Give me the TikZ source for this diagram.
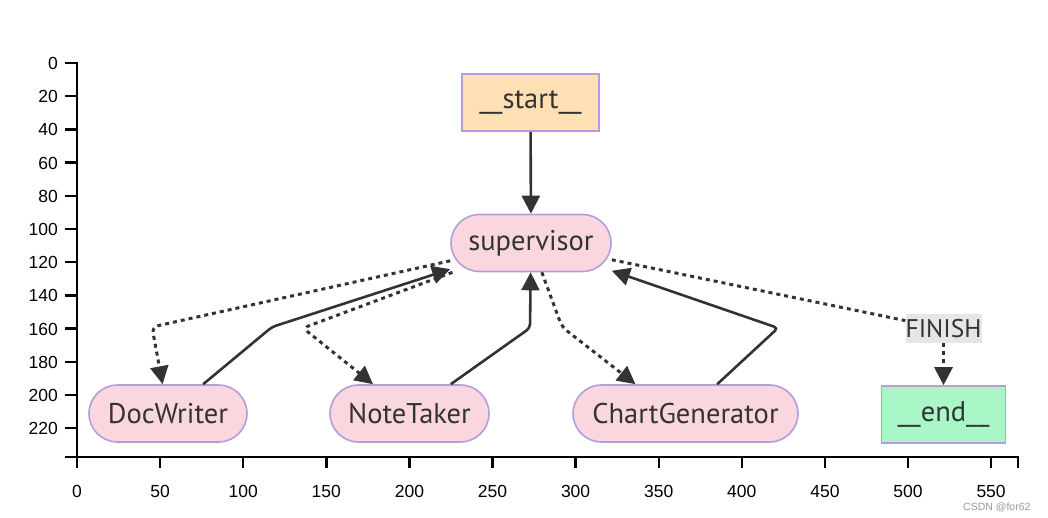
\documentclass[tikz,border=0pt]{standalone}
\usepackage{fontspec}
\setmainfont{PT Sans}
\newfontfamily\axisfont{Liberation Sans}
\usepackage{xcolor}
\usepackage{tikz}
\usetikzlibrary{arrows.meta, positioning, calc}

\definecolor{edgegray}{HTML}{333333}
\definecolor{nodeborder}{HTML}{B39DDB}
\definecolor{startfill}{HTML}{FFDFB4}
\definecolor{endfill}{HTML}{A9F7C6}
\definecolor{agentfill}{HTML}{FAD7DE}
\definecolor{labelbg}{HTML}{E6E6E6}

\begin{document}
\begin{tikzpicture}[
    x=1pt, y=-1pt,
    font=\fontsize{28.5}{32}\selectfont,
    box/.style={
        rectangle,
        draw=nodeborder,
        line width=1.6pt,
        text=edgegray,
        minimum height=57pt,
        inner sep=0pt
    },
    agent/.style={
        box,
        fill=agentfill,
        rounded corners=28.5pt
    },
    arrow/.style={
        -{Triangle[length=18pt,width=18pt]},
        line width=2.6pt,
        draw=edgegray,
        rounded corners=4pt
    },
    dotline/.style={
        line width=3pt,
        draw=edgegray,
        dash pattern=on 4pt off 4pt,
        rounded corners=6pt
    },
    dotarrow/.style={
        dotline,
        -{Triangle[length=18pt,width=18pt]}
    },
    axis/.style={
        line width=2.4pt,
        draw=black
    },
    ticklabel/.style={
        font=\axisfont\fontsize{17.5}{19}\selectfont,
        inner sep=0pt
    }
]
\useasboundingbox (0,0) rectangle (1048,518);

% Axes
\draw[axis] (65,63) -- (77,63) -- (77,457) -- (65,457);
\draw[axis] (77,468) -- (77,457) -- (1018,457) -- (1018,468);
\foreach \v in {0,20,...,220} {
    \draw[axis] (65,{63+1.66*\v}) -- (77,{63+1.66*\v});
    \node[ticklabel, anchor=base east] (ylab\v) at (58,{69.5+1.66*\v}) {\v};
}
\foreach \v in {0,50,...,550} {
    \draw[axis] ({77+1.662*\v},457) -- ({77+1.662*\v},468);
    \node[ticklabel, anchor=base] (xlab\v) at ({77+1.662*\v},497) {\v};
}

% Nodes
\node[box, fill=startfill, minimum width=137pt] (start) at (530.5,102.5) {\_\_start\_\_};
\node[agent, minimum width=160pt] (supervisor) at (531,243) {supervisor};
\node[agent, minimum width=158pt] (docwriter) at (168,413.5) {DocWriter};
\node[agent, minimum width=159pt] (notetaker) at (409.5,413.5) {NoteTaker};
\node[agent, minimum width=225pt] (chartgen) at (685.5,413.5) {ChartGenerator};
\node[fill=labelbg, text=edgegray, inner sep=0pt, minimum width=76pt, minimum height=29pt, font=\fontsize{25.5}{28}\selectfont] (finish) at (943.5,328.5) {FINISH};
\node[box, fill=endfill, minimum width=124pt, below=42pt of finish] (endnode) {\_\_end\_\_};
\node[anchor=base west, inner sep=0pt, text=gray!80, font=\axisfont\fontsize{10.5}{12}\selectfont] (mark) at (963,510) {CSDN @for62};

% Bends
\coordinate (dwout) at (152,327);
\coordinate (dwin) at (272,327);
\coordinate (ntout) at (303,328);
\coordinate (ntin) at (530,328);
\coordinate (cgout) at (562,327);
\coordinate (cgin) at (778,328);

% Arrows
\draw[arrow] (start) -- (supervisor);
\draw[dotarrow] (supervisor) -- (dwout) -- (docwriter);
\draw[arrow] (docwriter) -- (dwin) -- (supervisor);
\draw[dotarrow] (supervisor) -- (ntout) -- (notetaker);
\draw[arrow] (notetaker) -- (ntin) -- (supervisor);
\draw[dotarrow] (supervisor) -- (cgout) -- ([xshift=-50pt]chartgen.north);
\draw[arrow] (chartgen) -- (cgin) -- (supervisor);
\draw[dotline] (supervisor) -- (finish);
\draw[dotarrow] (finish) -- (endnode);

\end{tikzpicture}
\end{document}
